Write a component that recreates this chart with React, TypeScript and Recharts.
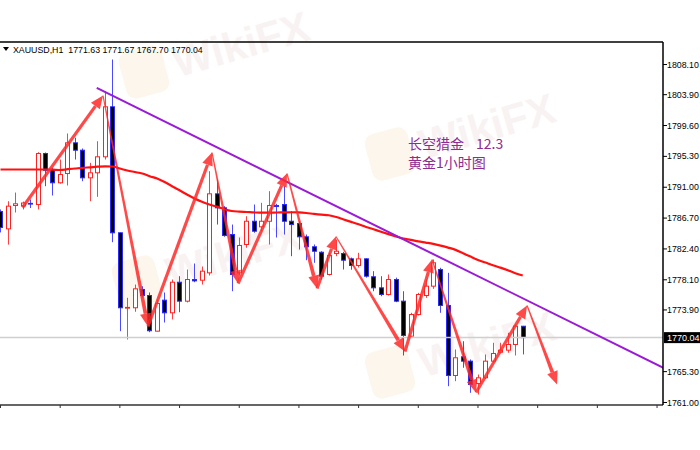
import React from 'react';
import { ComposedChart, Bar, Line, XAxis, YAxis, ReferenceLine } from 'recharts';

// ---- data (XAUUSD H1) ----
const opens = [1787.62, 1785.2, 1788.45, 1788.4, 1788.75, 1788.59, 1795.7, 1793.47, 1791.62, 1792.91, 1797.19, 1796.16, 1792.31, 1793.01, 1795.24, 1802.21, 1784.65, 1774.15, 1774.2, 1776.75, 1775.91, 1770.94, 1775.26, 1773.5, 1777.76, 1775.12, 1778.14, 1778.04, 1779.07, 1790.08, 1788.13, 1784.41, 1779.07, 1783.02, 1786.26, 1785.48, 1786.26, 1788.45, 1788.59, 1786.26, 1785.94, 1784.09, 1782.7, 1781.94, 1778.84, 1781.76, 1781.76, 1781.02, 1780.09, 1781.02, 1778.52, 1776.98, 1776.05, 1778.14, 1775.12, 1770.24, 1773.26, 1775.91, 1777.21, 1779.53, 1774.52, 1764.76, 1767.37, 1766.76, 1763.65, 1764.44, 1766.76, 1768.01, 1768.29, 1769.08, 1771.63];
const highs = [1787.9, 1789.05, 1790.26, 1789.0, 1789.3, 1795.88, 1795.84, 1793.7, 1794.86, 1798.49, 1797.9, 1796.4, 1794.4, 1797.41, 1804.38, 1808.8, 1784.69, 1775.59, 1777.44, 1777.2, 1776.33, 1775.35, 1776.33, 1778.14, 1778.6, 1779.53, 1780.37, 1779.95, 1793.23, 1792.08, 1788.36, 1785.8, 1783.99, 1786.96, 1788.59, 1788.83, 1790.45, 1788.69, 1791.14, 1787.66, 1786.26, 1784.41, 1783.02, 1782.08, 1781.86, 1783.71, 1782.0, 1781.2, 1781.86, 1781.1, 1779.3, 1778.6, 1778.84, 1778.4, 1776.51, 1773.5, 1776.28, 1778.14, 1780.93, 1779.77, 1779.07, 1768.39, 1769.54, 1767.0, 1764.9, 1767.69, 1769.32, 1769.32, 1770.71, 1771.87, 1771.67];
const lows = [1784.7, 1783.0, 1787.48, 1787.9, 1788.1, 1787.9, 1791.14, 1789.85, 1791.5, 1791.24, 1794.86, 1791.84, 1789.05, 1789.66, 1794.86, 1783.34, 1770.94, 1769.78, 1773.64, 1775.6, 1770.8, 1770.9, 1772.15, 1772.57, 1773.58, 1774.94, 1777.76, 1777.44, 1778.7, 1785.8, 1784.09, 1776.51, 1778.7, 1782.56, 1784.65, 1784.87, 1783.02, 1783.99, 1784.41, 1781.39, 1782.32, 1780.83, 1780.47, 1778.14, 1778.7, 1781.39, 1779.53, 1779.5, 1779.81, 1778.4, 1776.51, 1775.82, 1775.9, 1774.98, 1767.55, 1770.02, 1773.12, 1775.59, 1776.84, 1773.5, 1763.27, 1763.97, 1765.84, 1762.35, 1762.11, 1764.3, 1766.53, 1767.83, 1767.93, 1767.55, 1767.7];
const closes = [1785.39, 1788.36, 1788.69, 1788.8, 1788.65, 1795.7, 1793.37, 1791.62, 1792.77, 1797.19, 1796.16, 1792.31, 1793.01, 1795.24, 1802.21, 1784.65, 1774.2, 1774.25, 1776.84, 1775.91, 1771.0, 1774.8, 1773.5, 1777.76, 1775.12, 1778.14, 1777.95, 1779.3, 1790.08, 1788.13, 1784.27, 1778.84, 1782.88, 1786.26, 1784.87, 1786.26, 1788.45, 1788.31, 1786.26, 1785.8, 1784.09, 1782.7, 1782.08, 1778.6, 1781.48, 1782.08, 1780.83, 1780.09, 1781.02, 1778.6, 1776.98, 1776.05, 1778.14, 1775.12, 1770.34, 1773.26, 1776.05, 1777.21, 1780.47, 1774.52, 1764.76, 1767.23, 1766.76, 1763.51, 1764.44, 1766.76, 1767.83, 1768.29, 1769.08, 1771.63, 1770.04];
const movingAverage = [1793.47, 1793.47, 1793.47, 1793.47, 1793.47, 1793.47, 1793.47, 1793.44, 1793.4, 1793.51, 1793.61, 1793.71, 1793.78, 1793.86, 1793.92, 1793.89, 1793.61, 1793.33, 1793.12, 1792.91, 1792.54, 1792.22, 1791.73, 1791.14, 1790.57, 1789.99, 1789.43, 1788.97, 1788.59, 1788.29, 1787.94, 1787.69, 1787.6, 1787.55, 1787.49, 1787.45, 1787.45, 1787.48, 1787.49, 1787.51, 1787.49, 1787.41, 1787.28, 1787.17, 1787.09, 1786.85, 1786.5, 1786.17, 1785.83, 1785.46, 1785.14, 1784.8, 1784.47, 1784.15, 1783.85, 1783.67, 1783.45, 1783.28, 1783.1, 1782.86, 1782.59, 1782.27, 1781.81, 1781.33, 1780.87, 1780.5, 1780.13, 1779.8, 1779.44, 1779.02, 1778.7];

const priceTicks = [1761.0, 1765.3, 1773.9, 1778.1, 1782.4, 1786.7, 1791.0, 1795.3, 1799.6, 1803.9, 1808.1];
const timeTicks = [0, 8, 16, 24, 32, 40, 48, 56, 64, 72, 80, 88];
const xDomain = [-0.067, 88.8];
const yDomain = [1760.65, 1811.24];

// trend line (bar index, price)
const trendStart = { x: 12.9, y: 1804.85 };
const trendEnd = { x: 88.85, y: 1765.84 };

// zigzag arrows (bar index, price)
const arrowFromX = [2.95, 13.74, 19.77, 28.35, 31.84, 38.4, 42.43, 44.97, 54.22, 57.84, 63.74, 70.58];
const arrowFromP = [1788.17, 1803.78, 1771.59, 1795.84, 1777.58, 1792.91, 1776.89, 1784.13, 1768.11, 1780.93, 1762.39, 1774.52];
const arrowToX = [13.74, 19.77, 28.35, 31.84, 38.4, 42.43, 44.97, 54.22, 57.84, 63.74, 70.58, 74.6];
const arrowToP = [1803.78, 1771.59, 1795.84, 1777.58, 1792.91, 1776.89, 1784.13, 1768.11, 1780.93, 1762.39, 1774.52, 1763.51];

const headerSymbol = 'XAUUSD,H1';
const titleLine1 = '长空猎金';
const titleNum = '12.3';
const titleLine2 = '黄金1小时图';

const data = opens.map((o, i) => ({
  i,
  open: o,
  high: highs[i],
  low: lows[i],
  close: closes[i],
  range: [lows[i], highs[i]],
  ma: movingAverage[i],
}));

const RED = '#ff2020';
const BLUE = '#2a2aff';
const AXIS_FONT = '"Liberation Sans", Arial, sans-serif';

const Candle = (props: any) => {
  const { x, y, width, height, payload } = props;
  if (!payload || x == null || y == null) return null;
  const { open, close, high, low } = payload;
  const top = Math.min(y, y + height);
  const bot = Math.max(y, y + height);
  const span = high - low || 1;
  const toPx = (v: number) => top + ((high - v) / span) * (bot - top);
  const cx = Math.round(x + width / 2) + 0.5;
  const up = close >= open;
  const bTop = toPx(Math.max(open, close));
  const bBot = toPx(Math.min(open, close));
  const col = up ? RED : BLUE;
  return (
    <g>
      <line x1={cx} x2={cx} y1={top} y2={bot} stroke={col} strokeWidth={1} opacity={0.85} />
      <rect
        x={cx - 2}
        y={bTop}
        width={4}
        height={Math.max(bBot - bTop, 0.5)}
        fill={up ? '#ffffff' : '#000000'}
        stroke={col}
        strokeWidth={1}
      />
    </g>
  );
};

const makeArrow = (tapered: boolean) => (props: any) => {
  const { x1, y1, x2, y2 } = props;
  if ([x1, y1, x2, y2].some((v) => v == null || isNaN(v))) return null;
  const dx = x2 - x1;
  const dy = y2 - y1;
  const len = Math.hypot(dx, dy) || 1;
  const ux = dx / len;
  const uy = dy / len;
  const px = -uy;
  const py = ux;
  const headLen = 13;
  const headW = 5.5;
  const bx = x2 - ux * headLen;
  const by = y2 - uy * headLen;
  const w0 = tapered ? 0.6 : 1.6;
  const w1 = tapered ? 1.9 : 1.6;
  const shaft = `${x1 + px * w0},${y1 + py * w0} ${bx + px * w1},${by + py * w1} ${bx - px * w1},${by - py * w1} ${x1 - px * w0},${y1 - py * w0}`;
  const head = `${x2},${y2} ${bx + px * headW},${by + py * headW} ${bx - px * headW},${by - py * headW}`;
  return (
    <g opacity={0.85}>
      <polygon points={shaft} fill="#ff2a2a" />
      <polygon points={head} fill="#ff2a2a" />
    </g>
  );
};

const PriceTag = (props: any) => {
  const vb = props.viewBox || {};
  const x = (vb.x || 0) + (vb.width || 0);
  const y = vb.y || 0;
  return (
    <g>
      <rect x={x + 1} y={y - 5.5} width={40} height={11} fill="#000" />
      <text x={x + 4} y={y} dy="0.35em" fill="#fff" fontSize={9} fontFamily={AXIS_FONT}>
        {closes[closes.length - 1].toFixed(2)}
      </text>
    </g>
  );
};

const Watermark = ({ left, top }: { left: number; top: number }) => (
  <>
    <div
      style={{
        position: 'absolute',
        left,
        top,
        width: 44,
        height: 48,
        borderRadius: 10,
        background: '#fdf6ec',
        transform: 'rotate(-15deg)',
      }}
    />
    <div
      style={{
        position: 'absolute',
        left: left + 52,
        top: top - 8,
        fontFamily: AXIS_FONT,
        fontWeight: 'bold',
        fontSize: 42,
        color: '#f8f3f2',
        transform: 'rotate(-16deg)',
        transformOrigin: 'left center',
        whiteSpace: 'pre',
      }}
    >
      WikiFX
    </div>
  </>
);

export default function App() {
  const header = `${headerSymbol}  ${opens[opens.length - 1].toFixed(2)} ${highs[highs.length - 1].toFixed(2)} ${lows[lows.length - 1].toFixed(2)} ${closes[closes.length - 1].toFixed(2)}`;
  return (
    <div style={{ position: 'absolute', left: 0, top: 0, width: 700, height: 450, background: '#fff', overflow: 'hidden' }}>
      <Watermark left={122} top={48} />
      <Watermark left={368} top={130} />
      <Watermark left={115} top={258} />
      <Watermark left={368} top={348} />
      <div style={{ position: 'absolute', left: 0, top: 0 }}>
        <ComposedChart width={700} height={450} data={data} margin={{ top: 42, right: 0, bottom: 35, left: 0 }}>
          <XAxis
            dataKey="i"
            type="number"
            domain={xDomain}
            allowDataOverflow
            ticks={timeTicks}
            height={10}
            tickFormatter={() => ''}
            axisLine={{ stroke: '#333', strokeWidth: 1.5 }}
            tickLine={{ stroke: '#333' }}
            tickSize={3}
          />
          <YAxis
            orientation="right"
            type="number"
            domain={yDomain}
            allowDataOverflow
            ticks={priceTicks}
            width={37}
            tickFormatter={(v: number) => v.toFixed(2)}
            tick={{ fill: '#000', fontSize: 8.8, fontFamily: AXIS_FONT }}
            tickSize={4}
            tickMargin={0}
            axisLine={{ stroke: '#000', strokeWidth: 1.5 }}
            tickLine={{ stroke: '#000' }}
          />
          <ReferenceLine y={yDomain[1]} stroke="#000" strokeWidth={1.5} ifOverflow="visible" />
          <ReferenceLine y={closes[closes.length - 1]} stroke="#cfcfcf" strokeWidth={1.5} label={<PriceTag />} />
          <Bar dataKey="range" barSize={5} shape={<Candle />} isAnimationActive={false} />
          <Line dataKey="ma" type="monotone" stroke="#ff1010" strokeWidth={2.2} dot={false} isAnimationActive={false} />
          <ReferenceLine
            segment={[trendStart, trendEnd]}
            stroke="#9a1ad6"
            strokeWidth={2}
            ifOverflow="hidden"
          />
          {arrowFromX.map((fx, k) => (
            <ReferenceLine
              key={k}
              segment={[
                { x: fx, y: arrowFromP[k] },
                { x: arrowToX[k], y: arrowToP[k] },
              ]}
              shape={makeArrow(arrowToP[k] < arrowFromP[k])}
              ifOverflow="visible"
            />
          ))}
        </ComposedChart>
      </div>
      <svg style={{ position: 'absolute', left: 3, top: 47 }} width={7} height={5}>
        <polygon points="0,0 6,0 3,4" fill="#000" />
      </svg>
      <div
        style={{
          position: 'absolute',
          left: 13,
          top: 45,
          fontFamily: AXIS_FONT,
          fontSize: 8.8,
          lineHeight: '10px',
          color: '#000',
          whiteSpace: 'pre',
        }}
      >
        {header}
      </div>
      <div
        style={{
          position: 'absolute',
          left: 408,
          top: 136,
          fontFamily: '"Noto Sans CJK SC", sans-serif',
          fontSize: 14,
          lineHeight: '15px',
          color: '#8e2a92',
          whiteSpace: 'pre',
        }}
      >
        {titleLine1}
      </div>
      <div
        style={{
          position: 'absolute',
          left: 476,
          top: 136,
          fontFamily: '"Noto Sans CJK SC", sans-serif',
          fontSize: 14,
          lineHeight: '15px',
          color: '#8e2a92',
          whiteSpace: 'pre',
        }}
      >
        {titleNum}
      </div>
      <div
        style={{
          position: 'absolute',
          left: 408,
          top: 155,
          fontFamily: '"Noto Sans CJK SC", sans-serif',
          fontSize: 14,
          lineHeight: '15px',
          color: '#8e2a92',
          whiteSpace: 'pre',
        }}
      >
        {titleLine2}
      </div>
    </div>
  );
}
